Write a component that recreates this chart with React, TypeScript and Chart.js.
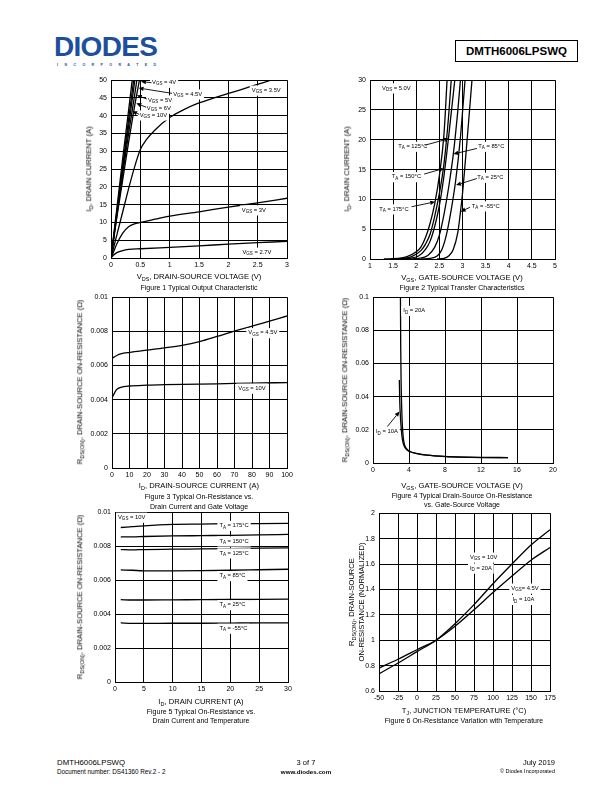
import React, { useEffect, useRef } from 'react';
import { Chart, registerables } from 'chart.js';
Chart.register(...registerables);

type Pt = [number, number];

// ---------- Figure 1: Typical Output Characteristic (VDS, ID) ----------
const fig1Vgs10: Pt[] = [[0, 0], [0.05, 7], [0.1, 14], [0.2, 28], [0.3, 41.5], [0.365, 50.5]];
const fig1Vgs6: Pt[] = [[0, 0], [0.05, 6.5], [0.1, 13], [0.2, 26], [0.3, 39], [0.39, 50.5]];
const fig1Vgs5: Pt[] = [[0, 0], [0.05, 6.2], [0.1, 12.5], [0.2, 25], [0.3, 37], [0.41, 50.5]];
const fig1Vgs45: Pt[] = [[0, 0], [0.05, 6], [0.1, 12], [0.2, 23.5], [0.3, 35], [0.4, 45.5], [0.445, 50.5]];
const fig1Vgs4: Pt[] = [[0, 0], [0.05, 5.8], [0.1, 11.5], [0.2, 22], [0.3, 32.5], [0.4, 42.5], [0.49, 50.5]];
const fig1Vgs35: Pt[] = [[0, 0], [0.1, 6.5], [0.2, 13], [0.3, 19.5], [0.4, 25.5], [0.5, 30.5], [0.6, 33.2], [0.75, 36], [1, 39.5], [1.25, 41.8], [1.5, 43.6], [2, 46.3], [2.5, 48.8], [2.8, 50.4]];
const fig1Vgs3: Pt[] = [[0, 0], [0.05, 2], [0.1, 4], [0.2, 7], [0.3, 8.8], [0.4, 9.6], [0.5, 10], [0.75, 10.9], [1, 11.8], [1.5, 13], [2, 14.3], [2.5, 15.5], [3, 16.8]];
const fig1Vgs27: Pt[] = [[0, 0], [0.05, 0.9], [0.1, 1.5], [0.2, 2.1], [0.3, 2.4], [0.5, 2.6], [1, 3.0], [1.5, 3.4], [2, 3.9], [2.5, 4.3], [3, 4.7]];

// ---------- Figure 2: Typical Transfer Characteristics (VGS, ID) ----------
const fig2T175: Pt[] = [[1.3, 0], [1.6, 0.1], [1.8, 0.4], [2.0, 1.2], [2.1, 2.0], [2.2, 3.6], [2.3, 6], [2.4, 9.3], [2.5, 14], [2.6, 21], [2.67, 30.5]];
const fig2T150: Pt[] = [[1.45, 0], [1.7, 0.1], [1.9, 0.4], [2.1, 1.4], [2.2, 2.5], [2.3, 4.2], [2.4, 7.2], [2.5, 11], [2.6, 16], [2.7, 24], [2.76, 30.5]];
const fig2T125: Pt[] = [[1.6, 0], [1.85, 0.1], [2.05, 0.5], [2.2, 1.6], [2.3, 3], [2.4, 5.5], [2.5, 9], [2.6, 14], [2.7, 20.5], [2.84, 30.5]];
const fig2T85: Pt[] = [[1.85, 0], [2.05, 0.1], [2.25, 0.6], [2.4, 2], [2.5, 4], [2.6, 7.5], [2.7, 12], [2.8, 17.5], [2.9, 25], [2.96, 30.5]];
const fig2T25: Pt[] = [[2.1, 0], [2.3, 0.1], [2.45, 0.5], [2.55, 1.5], [2.65, 4], [2.75, 8], [2.85, 13], [2.95, 20], [3.06, 30.5]];
const fig2Tm55: Pt[] = [[2.45, 0], [2.6, 0.1], [2.7, 0.5], [2.8, 1.6], [2.9, 4.5], [2.95, 7.5], [3.0, 11], [3.1, 20], [3.21, 30.5]];

// ---------- Figure 3: On-Resistance vs Drain Current (ID, RDS) ----------
const fig3Vgs45: Pt[] = [[0, 0.0064], [1, 0.00648], [3, 0.0066], [5, 0.00668], [10, 0.00677], [20, 0.0069], [30, 0.00703], [40, 0.00718], [50, 0.0074], [60, 0.0077], [70, 0.00802], [80, 0.0083], [90, 0.0086], [100, 0.0089]];
const fig3Vgs10: Pt[] = [[0, 0.0041], [1, 0.0043], [2, 0.0045], [3, 0.00462], [5, 0.00472], [10, 0.0048], [20, 0.00485], [30, 0.00488], [40, 0.0049], [60, 0.00493], [80, 0.00497], [100, 0.005]];

// ---------- Figure 4: On-Resistance vs Gate-Source Voltage (VGS, RDS) ----------
const fig4Id20: Pt[] = [[3.05, 0.1], [3.08, 0.07], [3.12, 0.05], [3.18, 0.035], [3.25, 0.024], [3.35, 0.016], [3.5, 0.011], [3.75, 0.0085], [4, 0.0072], [5, 0.0056], [6, 0.0048], [8, 0.004], [10, 0.0036], [12, 0.0034], [15, 0.0033]];
const fig4Id10: Pt[] = [[2.93, 0.05], [2.96, 0.04], [3.0, 0.033], [3.08, 0.025], [3.2, 0.017], [3.35, 0.012], [3.6, 0.009], [4, 0.0071], [5, 0.0055], [6, 0.0047], [8, 0.0039], [10, 0.0035], [12, 0.0033], [15, 0.0032]];

// ---------- Figure 5: On-Resistance vs Drain Current and Temperature ----------
const fig5T175: Pt[] = [[1, 0.0091], [3, 0.00915], [5, 0.0092], [10, 0.00928], [15, 0.0093], [20, 0.00932], [25, 0.00933], [30, 0.00934]];
const fig5T150: Pt[] = [[1, 0.00855], [3, 0.00855], [5, 0.00857], [10, 0.0086], [15, 0.00862], [20, 0.00864], [25, 0.00867], [30, 0.00869]];
const fig5T125: Pt[] = [[1, 0.0078], [3, 0.00778], [5, 0.0078], [10, 0.00782], [15, 0.00784], [20, 0.00786], [25, 0.00788], [30, 0.0079]];
const fig5T85: Pt[] = [[1, 0.0066], [3, 0.00658], [5, 0.00655], [10, 0.00655], [15, 0.00656], [20, 0.00658], [25, 0.00661], [30, 0.00664]];
const fig5T25: Pt[] = [[1, 0.00485], [3, 0.00483], [5, 0.00483], [10, 0.00484], [15, 0.00485], [20, 0.00486], [25, 0.00487], [30, 0.00488]];
const fig5Tm55: Pt[] = [[1, 0.00348], [3, 0.00345], [5, 0.00345], [10, 0.00346], [15, 0.00346], [20, 0.00347], [25, 0.00348], [30, 0.00348]];

// ---------- Figure 6: Normalized On-Resistance vs Junction Temperature ----------
const fig6Temps: number[] = [-50, -25, 0, 25, 50, 75, 100, 125, 150, 175];
const fig6Vgs10: number[] = [0.735, 0.82, 0.91, 1.0, 1.13, 1.28, 1.445, 1.6, 1.75, 1.87];
const fig6Vgs45: number[] = [0.78, 0.85, 0.925, 1.0, 1.11, 1.24, 1.375, 1.505, 1.63, 1.73];

const FONT = '"Liberation Sans", Arial, Helvetica, sans-serif';

function parseRich(s: string): [string, boolean][] {
  const out: [string, boolean][] = [];
  const re = /_\{([^}]*)\}/g;
  let last = 0;
  let m: RegExpExecArray | null;
  while ((m = re.exec(s))) {
    if (m.index > last) out.push([s.slice(last, m.index), false]);
    out.push([m[1], true]);
    last = m.index + m[0].length;
  }
  if (last < s.length) out.push([s.slice(last), false]);
  return out;
}

type Note = { x: number; y: number; text: string; align?: 'left' | 'center' | 'right'; box?: boolean };
type Arrow = [number, number, number, number];

function makeNotesPlugin(notes: Note[], arrows: Arrow[], size: number) {
  return {
    id: 'notes',
    afterDatasetsDraw(chart: any) {
      const { ctx } = chart;
      const xs = chart.scales.x;
      const ys = chart.scales.y;
      const subSize = size * 0.78;
      ctx.save();
      const measure = (parts: [string, boolean][]) =>
        parts.reduce((w, [t, sub]) => {
          ctx.font = `${sub ? subSize : size}px ${FONT}`;
          return w + ctx.measureText(t).width;
        }, 0);
      const layouts = notes.map((n) => {
        const parts = parseRich(n.text);
        const w = measure(parts);
        const px = xs.getPixelForValue(n.x);
        const py = ys.getPixelForValue(n.y);
        const left = n.align === 'center' ? px - w / 2 : n.align === 'right' ? px - w : px;
        return { parts, w, left, py, box: n.box !== false };
      });
      ctx.fillStyle = '#fff';
      layouts.forEach((l) => {
        if (l.box) ctx.fillRect(l.left - 2, l.py - size * 0.8, l.w + 4, size * 1.75);
      });
      ctx.strokeStyle = '#000';
      ctx.fillStyle = '#000';
      ctx.lineWidth = 0.9;
      arrows.forEach(([x1, y1, x2, y2]) => {
        const ax = xs.getPixelForValue(x1);
        const ay = ys.getPixelForValue(y1);
        const bx = xs.getPixelForValue(x2);
        const by = ys.getPixelForValue(y2);
        const ang = Math.atan2(by - ay, bx - ax);
        const hl = 5;
        const hw = 2.2;
        const ex = bx - hl * Math.cos(ang);
        const ey = by - hl * Math.sin(ang);
        ctx.beginPath();
        ctx.moveTo(ax, ay);
        ctx.lineTo(ex, ey);
        ctx.stroke();
        ctx.beginPath();
        ctx.moveTo(bx, by);
        ctx.lineTo(ex + hw * Math.sin(ang), ey - hw * Math.cos(ang));
        ctx.lineTo(ex - hw * Math.sin(ang), ey + hw * Math.cos(ang));
        ctx.closePath();
        ctx.fill();
      });
      ctx.textBaseline = 'middle';
      ctx.textAlign = 'left';
      layouts.forEach((l) => {
        let cx = l.left;
        l.parts.forEach(([t, sub]) => {
          ctx.font = `${sub ? subSize : size}px ${FONT}`;
          ctx.fillText(t, cx, l.py + (sub ? size * 0.32 : 0));
          cx += ctx.measureText(t).width;
        });
      });
      ctx.restore();
    },
  };
}

const PAD_L = 36;
const PAD_T = 8;
const PAD_R = 14;
const PAD_B = 16;

interface PlotProps {
  area: [number, number, number, number];
  xr: [number, number, number];
  yr: [number, number, number];
  series: Pt[][];
  notes: Note[];
  arrows: Arrow[];
}

function Plot({ area, xr, yr, series, notes, arrows }: PlotProps) {
  const ref = useRef<HTMLCanvasElement>(null);
  const [l, t, r, b] = area;
  const W = r - l + PAD_L + PAD_R;
  const H = b - t + PAD_T + PAD_B;
  useEffect(() => {
    const fmt = (v: any) => String(+(+v).toFixed(4));
    const tickFont = { family: FONT, size: 7 };
    const chart = new Chart(ref.current as HTMLCanvasElement, {
      type: 'line',
      data: {
        datasets: series.map((s) => ({
          data: s.map(([a, c]) => ({ x: a, y: c })),
          borderColor: '#000',
          borderWidth: 1.3,
          pointRadius: 0,
          cubicInterpolationMode: 'monotone',
          fill: false,
        })),
      } as any,
      options: {
        animation: false,
        responsive: false,
        maintainAspectRatio: false,
        events: [],
        layout: { padding: { left: 0, top: PAD_T, right: PAD_R, bottom: 0 } },
        plugins: { legend: { display: false }, tooltip: { enabled: false } },
        scales: {
          x: {
            type: 'linear',
            min: xr[0],
            max: xr[1],
            ticks: { stepSize: xr[2], callback: fmt, color: '#000', font: tickFont, padding: 3, maxRotation: 0, autoSkip: false },
            grid: { color: '#000', lineWidth: 1, drawTicks: false },
            border: { color: '#000', width: 1 },
            afterFit: (s: any) => {
              s.height = PAD_B;
            },
          },
          y: {
            type: 'linear',
            min: yr[0],
            max: yr[1],
            ticks: { stepSize: yr[2], callback: fmt, color: '#000', font: tickFont, padding: 4, autoSkip: false },
            grid: { color: '#000', lineWidth: 1, drawTicks: false },
            border: { color: '#000', width: 1 },
            afterFit: (s: any) => {
              s.width = PAD_L;
            },
          },
        },
      } as any,
      plugins: [makeNotesPlugin(notes, arrows, 5.8)],
    });
    return () => chart.destroy();
  }, []);
  return (
    <canvas
      ref={ref}
      width={W}
      height={H}
      style={{ position: 'absolute', left: l - PAD_L, top: t - PAD_T, width: W, height: H }}
    />
  );
}

function Rich({ text }: { text: string }) {
  return (
    <>
      {parseRich(text).map(([s, sub], i) =>
        sub ? (
          <span key={i} style={{ fontSize: '0.72em', position: 'relative', top: '0.3em' }}>
            {s}
          </span>
        ) : (
          <span key={i}>{s}</span>
        )
      )}
    </>
  );
}

interface TProps {
  x: number;
  y: number;
  size: number;
  text: string;
  align?: 'left' | 'center' | 'right';
  bold?: boolean;
  rot?: boolean;
  color?: string;
  spacing?: number;
}

function T({ x, y, size, text, align = 'center', bold = false, rot = false, color = '#000', spacing = 0 }: TProps) {
  const tx = rot ? '-50%' : align === 'center' ? '-50%' : align === 'right' ? '-100%' : '0';
  return (
    <div
      style={{
        position: 'absolute',
        left: x,
        top: y,
        transform: `translate(${tx},-50%)${rot ? ' rotate(-90deg)' : ''}`,
        fontFamily: FONT,
        fontSize: size,
        fontWeight: bold ? 'bold' : 'normal',
        whiteSpace: 'nowrap',
        lineHeight: 1,
        color,
        letterSpacing: spacing,
      }}
    >
      <Rich text={text} />
    </div>
  );
}

const pts = (xs: number[], ys: number[]): Pt[] => xs.map((v, i) => [v, ys[i]]);

export default function App() {
  const AX = 7.6;
  const CAP = 7;
  return (
    <div style={{ position: 'absolute', left: 0, top: 0, width: 612, height: 792, background: '#fff', overflow: 'hidden' }}>
      {/* header */}
      <T x={54} y={47} size={28} text="DIODES" align="left" bold color="#1c4f9e" spacing={-0.7} />
      <T x={57} y={66} size={3.6} text="I N C O R P O R A T E D" align="left" bold color="#1c4f9e" spacing={2.7} />
      <div
        style={{
          position: 'absolute',
          left: 455,
          top: 40,
          width: 123,
          height: 22,
          border: '1px solid #000',
          boxSizing: 'border-box',
          display: 'flex',
          alignItems: 'center',
          justifyContent: 'center',
          fontFamily: FONT,
          fontWeight: 'bold',
          fontSize: 11.5,
        }}
      >
        DMTH6006LPSWQ
      </div>

      {/* Figure 1 */}
      <Plot
        area={[111, 80, 287, 258]}
        xr={[0, 3, 0.5]}
        yr={[0, 50, 5]}
        series={[fig1Vgs10, fig1Vgs6, fig1Vgs5, fig1Vgs45, fig1Vgs4, fig1Vgs35, fig1Vgs3, fig1Vgs27]}
        notes={[
          { x: 0.7, y: 49.4, text: 'V_{GS} = 4V' },
          { x: 1.06, y: 46.1, text: 'V_{GS} = 4.5V' },
          { x: 0.63, y: 44.4, text: 'V_{GS} = 5V' },
          { x: 0.61, y: 42.1, text: 'V_{GS} = 6V' },
          { x: 0.49, y: 40.2, text: 'V_{GS} = 10V' },
          { x: 2.4, y: 47.2, text: 'V_{GS} = 3.5V' },
          { x: 2.23, y: 13.5, text: 'V_{GS} = 3V' },
          { x: 2.24, y: 1.6, text: 'V_{GS} = 2.7V' },
        ]}
        arrows={[
          [0.69, 49.3, 0.51, 49.6],
          [1.04, 46.3, 0.47, 47.8],
          [0.61, 44.7, 0.44, 45.8],
          [0.6, 42.4, 0.43, 43.5],
          [0.48, 40.4, 0.36, 41.3],
        ]}
      />
      <T x={199} y={277} size={AX} text="V_{DS}, DRAIN-SOURCE VOLTAGE (V)" />
      <T x={199} y={287} size={CAP} text="Figure 1 Typical Output Characteristic" />
      <T x={89} y={169} size={AX} text="I_{D}, DRAIN CURRENT (A)" rot />

      {/* Figure 2 */}
      <Plot
        area={[370, 80, 555, 259]}
        xr={[1, 5, 0.5]}
        yr={[0, 30, 5]}
        series={[fig2T175, fig2T150, fig2T125, fig2T85, fig2T25, fig2Tm55]}
        notes={[
          { x: 1.26, y: 28.7, text: 'V_{DS} = 5.0V' },
          { x: 1.61, y: 18.9, text: 'T_{A} = 125°C' },
          { x: 3.34, y: 18.9, text: 'T_{A} = 85°C' },
          { x: 1.47, y: 13.8, text: 'T_{A} = 150°C' },
          { x: 3.32, y: 13.7, text: 'T_{A} = 25°C' },
          { x: 1.2, y: 8.4, text: 'T_{A} = 175°C' },
          { x: 3.2, y: 8.9, text: 'T_{A} = -55°C' },
        ]}
        arrows={[
          [2.19, 19.1, 2.71, 20.2],
          [3.31, 18.55, 2.8, 17.6],
          [2.17, 14.25, 2.6, 15.2],
          [3.31, 13.5, 2.86, 12.4],
          [1.9, 8.77, 2.41, 9.6],
          [3.16, 8.67, 2.96, 7.93],
        ]}
      />
      <T x={462} y={278} size={AX} text="V_{GS}, GATE-SOURCE VOLTAGE (V)" />
      <T x={462} y={287} size={CAP} text="Figure 2 Typical Transfer Characteristics" />
      <T x={347} y={169} size={AX} text="I_{D}, DRAIN CURRENT (A)" rot />

      {/* Figure 3 */}
      <Plot
        area={[112, 297, 287, 468]}
        xr={[0, 100, 10]}
        yr={[0, 0.01, 0.002]}
        series={[fig3Vgs45, fig3Vgs10]}
        notes={[
          { x: 77.9, y: 0.00792, text: 'V_{GS} = 4.5V' },
          { x: 72.2, y: 0.00467, text: 'V_{GS} = 10V' },
        ]}
        arrows={[]}
      />
      <T x={199} y={486} size={AX} text="I_{D}, DRAIN-SOURCE CURRENT (A)" />
      <T x={199} y={496} size={CAP} text="Figure 3 Typical On-Resistance vs." />
      <T x={199} y={506} size={CAP} text="Drain Current and Gate Voltage" />
      <T x={80} y={382} size={AX} text="R_{DS(ON)}, DRAIN-SOURCE ON-RESISTANCE (Ω)" rot />

      {/* Figure 4 */}
      <Plot
        area={[373, 297, 553, 463]}
        xr={[0, 20, 4]}
        yr={[0, 0.1, 0.02]}
        series={[fig4Id20, fig4Id10]}
        notes={[
          { x: 3.37, y: 0.092, text: 'I_{D} = 20A' },
          { x: 0.33, y: 0.019, text: 'I_{D} = 10A' },
        ]}
        arrows={[[1.6, 0.022, 2.95, 0.031]]}
      />
      <T x={462} y={486} size={AX} text="V_{GS}, GATE-SOURCE VOLTAGE (V)" />
      <T x={462} y={495} size={CAP} text="Figure 4 Typical Drain-Source On-Resistance" />
      <T x={462} y={504} size={CAP} text="vs. Gate-Source Voltage" />
      <T x={345} y={380} size={AX} text="R_{DS(ON)}, DRAIN-SOURCE ON-RESISTANCE (Ω)" rot />

      {/* Figure 5 */}
      <Plot
        area={[115, 512, 288, 682]}
        xr={[0, 30, 5]}
        yr={[0, 0.01, 0.002]}
        series={[fig5T175, fig5T150, fig5T125, fig5T85, fig5T25, fig5Tm55]}
        notes={[
          { x: 0.52, y: 0.0097, text: 'V_{GS} = 10V' },
          { x: 18.1, y: 0.00922, text: 'T_{A} = 175°C' },
          { x: 18.1, y: 0.0083, text: 'T_{A} = 150°C' },
          { x: 18.1, y: 0.0076, text: 'T_{A} = 125°C' },
          { x: 18.1, y: 0.00626, text: 'T_{A} = 85°C' },
          { x: 18.1, y: 0.00455, text: 'T_{A} = 25°C' },
          { x: 18.1, y: 0.00316, text: 'T_{A} = -55°C' },
        ]}
        arrows={[]}
      />
      <T x={201} y={702} size={AX} text="I_{D}, DRAIN CURRENT (A)" />
      <T x={201} y={711} size={CAP} text="Figure 5 Typical On-Resistance vs." />
      <T x={201} y={720} size={CAP} text="Drain Current and Temperature" />
      <T x={80} y={597} size={AX} text="R_{DS(ON)}, DRAIN-SOURCE ON-RESISTANCE (Ω)" rot />

      {/* Figure 6 */}
      <Plot
        area={[379, 513, 550, 691]}
        xr={[-50, 175, 25]}
        yr={[0.6, 2, 0.2]}
        series={[pts(fig6Temps, fig6Vgs10), pts(fig6Temps, fig6Vgs45)]}
        notes={[
          { x: 69.7, y: 1.654, text: 'V_{GS} = 10V' },
          { x: 69.7, y: 1.567, text: 'I_{D} = 20A' },
          { x: 142, y: 1.41, text: 'V_{GS}= 4.5V', align: 'center' },
          { x: 140, y: 1.32, text: 'I_{D} = 10A', align: 'center' },
        ]}
        arrows={[]}
      />
      <T x={464} y={711} size={AX} text="T_{J}, JUNCTION TEMPERATURE (°C)" />
      <T x={464} y={720} size={CAP} text="Figure 6 On-Resistance Variation with Temperature" />
      <T x={352} y={602} size={AX} text="R_{DS(ON)}, DRAIN-SOURCE" rot />
      <T x={362} y={602} size={AX} text="ON-RESISTANCE (NORMALIZED)" rot />

      {/* footer */}
      <T x={57} y={763} size={7.8} text="DMTH6006LPSWQ" align="left" />
      <T x={57} y={772} size={6.3} text="Document number: DS41360 Rev.2 - 2" align="left" />
      <T x={306} y={763} size={7.5} text="3 of 7" />
      <T x={306} y={772} size={6.2} text="www.diodes.com" bold />
      <T x={555} y={763} size={7.5} text="July 2019" align="right" />
      <T x={555} y={772} size={5.5} text="© Diodes Incorporated" align="right" />
    </div>
  );
}
